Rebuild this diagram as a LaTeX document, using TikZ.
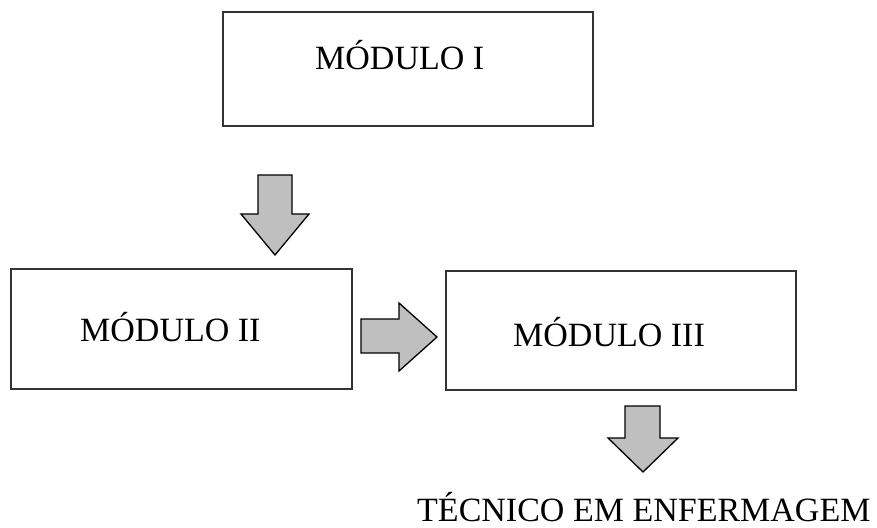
\documentclass[tikz,border=0pt]{standalone}
\usepackage{fontspec}
\setmainfont{Liberation Serif}
\begin{document}
\begin{tikzpicture}[x=1pt,y=-1pt,
  box/.style={draw=black!80, line width=1.8pt, inner sep=0pt, rectangle},
  lbl/.style={anchor=base west, inner sep=0pt, font=\fontsize{34}{40}\selectfont},
  blockarrow/.style={draw=black, fill=black!25, line width=1.3pt, line join=miter}]
\useasboundingbox (0,0) rectangle (877,527);
% boxes
\node[box, minimum width=370pt, minimum height=114pt] (m1) at (408,69) {};
\node[box, minimum width=341pt, minimum height=120pt] (m2) at (181.5,329) {};
\node[box, minimum width=350pt, minimum height=119pt] (m3) at (621,330.5) {};
% labels
\node[lbl] (t1) at (315,69) {MÓDULO I};
\node[lbl] (t2) at (80,341) {MÓDULO II};
\node[lbl] (t3) at (513,346.5) {MÓDULO III};
\node[lbl] (t4) at (417,521) {TÉCNICO EM ENFERMAGEM};
% block arrows
\draw[blockarrow] (258,175) -- (292,175) -- (292,214) -- (309,214) -- (275,255) -- (241,214) -- (258,214) -- cycle;
\draw[blockarrow] (361,319) -- (399,319) -- (399,303) -- (437,337) -- (399,371) -- (399,353) -- (361,353) -- cycle;
\draw[blockarrow] (625,406) -- (660,406) -- (660,438) -- (678,438) -- (643,472) -- (608,438) -- (625,438) -- cycle;
\end{tikzpicture}
\end{document}
